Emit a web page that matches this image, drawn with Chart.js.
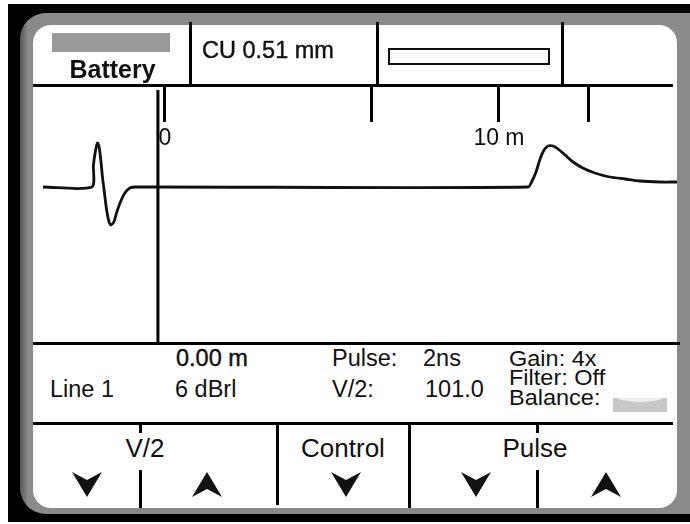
<!DOCTYPE html>
<html>
<head>
<meta charset="utf-8">
<script src="https://cdn.jsdelivr.net/npm/chart.js@4"></script>
<style>
  body { margin: 0; width: 690px; height: 524px; background: #fff; overflow: hidden; position: relative; font-family: "Liberation Sans", Arial, sans-serif; color: #111; }
  .abs { position: absolute; }
  .frame-black { left: 8px; top: 4px; width: 700px; height: 518px; background: #000; }
  .frame-gray { left: 20px; top: 13px; width: 700px; height: 501px; background: linear-gradient(90deg, #555 0, #8a8a8a 8px, #8a8a8a 100%); border-radius: 26px; }
  .frame-white { left: 33px; top: 25px; width: 644px; height: 483px; background: #fff; border-radius: 18px; }
  .hl { background: #000; height: 3px; }
  .vl { background: #000; width: 3px; }
  .txt { font-size: 23.5px; line-height: 1; white-space: nowrap; }
  .btn { font-size: 26px; line-height: 1; text-align: center; width: 120px; }
  .arrow { width: 30px; height: 25px; background: #111; }
  .down { clip-path: polygon(0 0, 50% 32%, 100% 0, 50% 100%); }
  .up { clip-path: polygon(50% 0, 100% 100%, 50% 68%, 0 100%); }
  #chartBox { left: 35px; top: 85px; width: 645px; height: 260px; }
</style>
</head>
<body>
<div class="abs frame-black"></div>
<div class="abs frame-gray"></div>
<div class="abs frame-white"></div>

<div class="abs" id="chartBox"><canvas id="tdrChart" width="645" height="260"></canvas></div>

<!-- header -->
<div class="abs" style="left:52px;top:33px;width:118px;height:19px;background:#999;"></div>
<div class="abs txt" style="left:35px;top:57px;width:155px;text-align:center;font-size:25px;font-weight:bold;">Battery</div>
<div class="abs vl" style="left:189px;top:22px;height:63px;"></div>
<div class="abs txt" style="left:202px;top:39px;-webkit-text-stroke:0.4px #111;">CU 0.51 mm</div>
<div class="abs vl" style="left:376px;top:22px;height:63px;"></div>
<div class="abs" style="left:388px;top:48px;width:158px;height:13px;border:2px solid #111;background:#fff;"></div>
<div class="abs vl" style="left:561px;top:22px;height:63px;"></div>
<div class="abs hl" style="left:33px;top:84px;width:640px;"></div>

<!-- info panel -->
<div class="abs hl" style="left:33px;top:342px;width:647px;"></div>
<div class="abs txt" style="left:176px;top:347px;-webkit-text-stroke:0.4px #111;">0.00 m</div>
<div class="abs txt" style="left:50px;top:378px;">Line 1</div>
<div class="abs txt" style="left:175px;top:378px;">6 dBrl</div>
<div class="abs txt" style="left:332px;top:347px;">Pulse:</div>
<div class="abs txt" style="left:423px;top:347px;">2ns</div>
<div class="abs txt" style="left:332px;top:378px;">V/2:</div>
<div class="abs txt" style="left:425px;top:378px;">101.0</div>
<div class="abs txt" style="left:509px;top:347px;transform:scaleY(0.95);transform-origin:0 100%;">Gain: 4x</div>
<div class="abs txt" style="left:509px;top:366px;transform:scaleY(0.95);transform-origin:0 100%;">Filter: Off</div>
<div class="abs txt" style="left:509px;top:386px;transform:scaleY(0.95);transform-origin:0 100%;">Balance:</div>
<div class="abs" style="left:613px;top:398px;width:54px;height:14px;background:#c8c8c8;overflow:hidden;">
  <div style="position:absolute;left:4px;top:-6px;width:46px;height:10px;background:#eee;border-radius:50%;"></div>
</div>

<!-- buttons -->
<div class="abs hl" style="left:33px;top:422px;width:640px;"></div>
<div class="abs vl" style="left:139px;top:423px;height:10px;"></div>
<div class="abs vl" style="left:139px;top:470px;height:38px;"></div>
<div class="abs vl" style="left:276px;top:423px;height:82px;"></div>
<div class="abs vl" style="left:408px;top:423px;height:85px;"></div>
<div class="abs vl" style="left:536px;top:423px;height:10px;"></div>
<div class="abs vl" style="left:536px;top:470px;height:38px;"></div>
<div class="abs btn" style="left:85px;top:435px;">V/2</div>
<div class="abs btn" style="left:283px;top:435px;">Control</div>
<div class="abs btn" style="left:475px;top:435px;">Pulse</div>
<div class="abs arrow down" style="left:72px;top:472px;"></div>
<div class="abs arrow up" style="left:192px;top:472px;"></div>
<div class="abs arrow down" style="left:331px;top:472px;"></div>
<div class="abs arrow down" style="left:461px;top:472px;"></div>
<div class="abs arrow up" style="left:591px;top:472px;"></div>

<script>
// trace: distance (m) and reflection amplitude
const distance = [-3.65, -2.19, -2.14, -2.08, -2.02, -1.97, -1.92, -1.87, -1.81, -1.75, -1.68, -1.62, -1.53, -1.44, -1.32, -1.20, -1.05, -0.87,
                  10.87, 10.99, 11.11, 11.23, 11.35, 11.47, 11.62, 11.77, 11.98, 12.22, 12.51, 12.87, 13.32, 13.77, 14.22, 14.82, 15.33];
const amplitude = [0, 0, 0.22, 0.36, 0.44, 0.40, 0.27, 0.10, -0.06, -0.22, -0.34, -0.38, -0.35, -0.25, -0.14, -0.06, -0.01, 0,
                   0, 0.06, 0.15, 0.28, 0.37, 0.41, 0.41, 0.38, 0.32, 0.25, 0.19, 0.14, 0.10, 0.08, 0.06, 0.05, 0.05];

const cursorPos = -0.21;
const tickValues = [0, 6.17, 10, 12.69];
const tickLabels = ['0', '', '10 m', ''];

const xMin = -3.89, xMax = 15.42;
const yMin = -1.58, yMax = 1.02;

const ctx = document.getElementById('tdrChart').getContext('2d');
const tdrChart = new Chart(ctx, {
    type: 'line',
    data: {
        datasets: [
            { data: distance.map((d, i) => ({ x: d, y: amplitude[i] })), borderColor: '#111', borderWidth: 2.8, pointRadius: 0, tension: 0.25, fill: false },
            { data: [{ x: cursorPos, y: 0.97 }, { x: cursorPos, y: yMin }], borderColor: '#000', borderWidth: 3, pointRadius: 0, fill: false }
        ]
    },
    options: {
        responsive: false, animation: false,
        layout: { padding: 0 },
        plugins: { legend: { display: false }, tooltip: { enabled: false } },
        scales: {
            x: {
                type: 'linear', min: xMin, max: xMax,
                position: { y: yMax },
                border: { display: false },
                grid: { drawOnChartArea: false, drawTicks: true, tickLength: 37, tickWidth: 3, color: '#000' },
                afterBuildTicks: s => { s.ticks = tickValues.map(v => ({ value: v })); },
                ticks: {
                    autoSkip: false, maxRotation: 0, padding: 3, color: '#111',
                    font: { family: '"Liberation Sans", Arial', size: 23 },
                    callback: (v, i) => tickLabels[i]
                }
            },
            y: { display: false, min: yMin, max: yMax }
        }
    }
});
</script>
</body>
</html>
